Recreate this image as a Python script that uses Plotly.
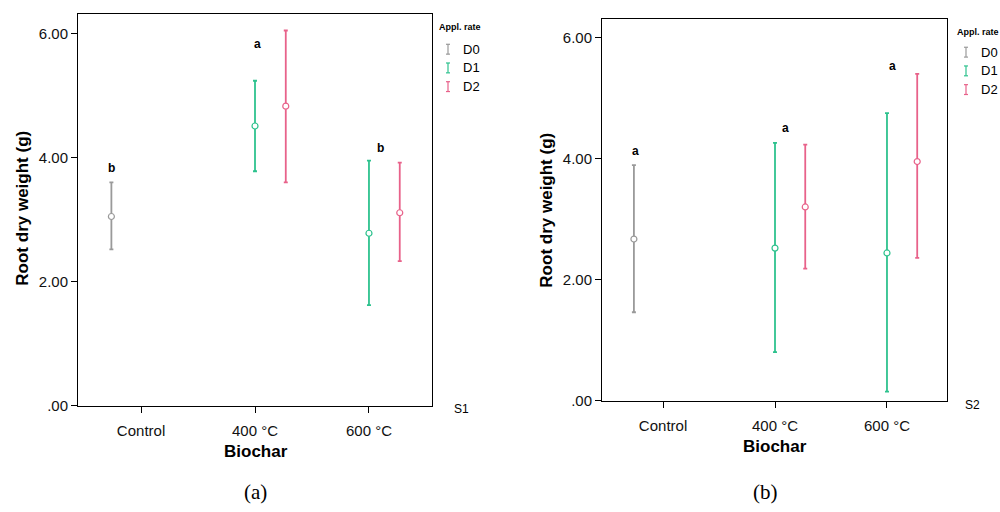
import plotly.graph_objects as go

# ---------------- data ----------------
categories = ["Control", "400 °C", "600 °C"]
rates = ["D0", "D1", "D2"]
rate_colors = {"D0": "#9a9a9a", "D1": "#2ec28e", "D2": "#e8628a"}
rate_offsets = {"D0": -0.26, "D1": 0.0, "D2": 0.27}

# Panel (a) S1 : means, upper and lower error-bar ends (None = not present)
s1_mean = {"D0": [3.05, None, None], "D1": [None, 4.51, 2.78], "D2": [None, 4.83, 3.11]}
s1_upper = {"D0": [3.60, None, None], "D1": [None, 5.24, 3.95], "D2": [None, 6.05, 3.92]}
s1_lower = {"D0": [2.52, None, None], "D1": [None, 3.78, 1.62], "D2": [None, 3.60, 2.33]}

# Panel (b) S2
s2_mean = {"D0": [2.67, None, None], "D1": [None, 2.52, 2.44], "D2": [None, 3.20, 3.95]}
s2_upper = {"D0": [3.89, None, None], "D1": [None, 4.26, 4.75], "D2": [None, 4.23, 5.40]}
s2_lower = {"D0": [1.46, None, None], "D1": [None, 0.80, 0.15], "D2": [None, 2.18, 2.36]}

# Significance letters (x = category position + small shift, y = value)
s1_letters = ["b", "a", "b"]
s1_letter_x = [-0.26, 1.02, 2.10]
s1_letter_y = [3.84, 5.84, 4.16]
s2_letters = ["a", "a", "a"]
s2_letter_x = [-0.25, 1.09, 2.05]
s2_letter_y = [4.13, 4.50, 5.53]

y_tickvals = [0, 2, 4, 6]
y_ticktext = [".00", "2.00", "4.00", "6.00"]

FONT = "Liberation Sans, Arial, sans-serif"

fig = go.Figure()


def add_panel(means, uppers, lowers, xa, ya):
    for r in rates:
        xs, ys, ep, em = [], [], [], []
        for i, m in enumerate(means[r]):
            if m is None:
                continue
            xs.append(i + rate_offsets[r])
            ys.append(m)
            ep.append(uppers[r][i] - m)
            em.append(m - lowers[r][i])
        fig.add_trace(go.Scatter(
            x=xs, y=ys, mode="markers", name=r, showlegend=False,
            xaxis=xa, yaxis=ya,
            marker=dict(symbol="circle", size=6, color="white",
                        line=dict(color=rate_colors[r], width=1.2)),
            error_y=dict(type="data", symmetric=False, array=ep, arrayminus=em,
                         color=rate_colors[r], thickness=1.8, width=2),
        ))


add_panel(s1_mean, s1_upper, s1_lower, "x", "y")
add_panel(s2_mean, s2_upper, s2_lower, "x2", "y2")

axis_common = dict(showline=True, mirror=True, linecolor="black", linewidth=1,
                   showgrid=False, zeroline=False, ticks="outside", ticklen=6,
                   tickcolor="black",
                   tickfont=dict(family=FONT, size=15, color="#111"))

fig.update_layout(
    width=1000, height=512,
    margin=dict(l=0, r=0, t=0, b=0),
    paper_bgcolor="white", plot_bgcolor="white",
    xaxis=dict(domain=[0.078, 0.432], range=[-0.553, 2.553], ticklabelstandoff=5,
               tickvals=[0, 1, 2], ticktext=categories, anchor="y", **axis_common),
    yaxis=dict(domain=[1 - 412 / 512, 1 - 14 / 512], range=[0, 6.32],
               tickvals=y_tickvals, ticktext=y_ticktext, anchor="x", **axis_common),
    xaxis2=dict(domain=[0.602, 0.947], range=[-0.545, 2.536], ticklabelstandoff=5,
                tickvals=[0, 1, 2], ticktext=categories, anchor="y2", **axis_common),
    yaxis2=dict(domain=[1 - 407 / 512, 1 - 19 / 512], range=[0, 6.31],
                tickvals=y_tickvals, ticktext=y_ticktext, anchor="x2", **axis_common),
)

ann = []
# letters
for t, x, y in zip(s1_letters, s1_letter_x, s1_letter_y):
    ann.append(dict(text="<b>%s</b>" % t, x=x, y=y, xref="x", yref="y", showarrow=False,
                    font=dict(family=FONT, size=12, color="black")))
for t, x, y in zip(s2_letters, s2_letter_x, s2_letter_y):
    ann.append(dict(text="<b>%s</b>" % t, x=x, y=y, xref="x2", yref="y2", showarrow=False,
                    font=dict(family=FONT, size=12, color="black")))

# axis titles
for cx, cy, xt_x, xt_y in [(23, 212, 256, 459), (547, 214, 775, 454)]:
    ann.append(dict(text="<b>Root dry weight (g)</b>", x=cx / 1000, y=1 - cy / 512,
                    xref="paper", yref="paper", textangle=-90, showarrow=False,
                    xanchor="center", yanchor="middle",
                    font=dict(family=FONT, size=17, color="black")))
    ann.append(dict(text="<b>Biochar</b>", x=xt_x / 1000, y=1 - xt_y / 512,
                    xref="paper", yref="paper", showarrow=False,
                    xanchor="center", yanchor="middle",
                    font=dict(family=FONT, size=17, color="black")))

# panel labels
for txt, x in [("(a)", 255), ("(b)", 765)]:
    ann.append(dict(text=txt, x=x / 1000, y=1 - 500 / 512, xref="paper", yref="paper",
                    showarrow=False, xanchor="center", yanchor="middle",
                    font=dict(family="Liberation Serif, serif", size=21, color="black")))

# S1 / S2 labels
ann.append(dict(text="S1", x=452 / 1000, y=1 - 415 / 512, xref="paper", yref="paper",
                showarrow=False, xanchor="left", yanchor="middle",
                font=dict(family=FONT, size=12, color="black")))
ann.append(dict(text="S2", x=963 / 1000, y=1 - 411 / 512, xref="paper", yref="paper",
                showarrow=False, xanchor="left", yanchor="middle",
                font=dict(family=FONT, size=12, color="black")))

# manual legends
shapes = []
for lx, ly0, title_y in [(437, 50, 27), (955, 53, 32)]:
    ann.append(dict(text="<b>Appl. rate</b>", x=lx / 1000, y=1 - title_y / 512,
                    xref="paper", yref="paper", showarrow=False,
                    xanchor="left", yanchor="middle",
                    font=dict(family=FONT, size=9, color="black")))
    for k, r in enumerate(rates):
        yy = ly0 + 19 * k
        ix = lx + 11
        ann.append(dict(text=r, x=(lx + 24) / 1000, y=1 - yy / 512,
                        xref="paper", yref="paper", showarrow=False,
                        xanchor="left", yanchor="middle",
                        font=dict(family=FONT, size=13, color="black")))
        c = rate_colors[r]
        shapes.append(dict(type="line", xref="paper", yref="paper",
                           x0=ix / 1000, x1=ix / 1000,
                           y0=1 - (yy - 5) / 512, y1=1 - (yy + 5) / 512,
                           line=dict(color=c, width=1.2)))
        for dy in (-5, 5):
            shapes.append(dict(type="line", xref="paper", yref="paper",
                               x0=(ix - 2) / 1000, x1=(ix + 2) / 1000,
                               y0=1 - (yy + dy) / 512, y1=1 - (yy + dy) / 512,
                               line=dict(color=c, width=1.2)))

fig.update_layout(annotations=ann, shapes=shapes)

fig.write_html("out.html")
